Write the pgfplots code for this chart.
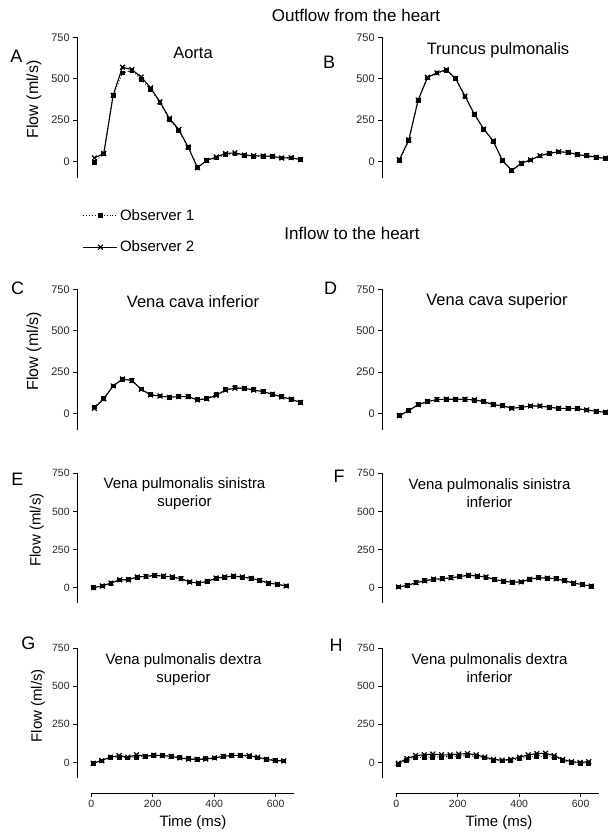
\documentclass[border=0pt]{standalone}
\usepackage{fontspec}
\setmainfont{Liberation Sans}
\usepackage{pgfplots}
\usepackage{pgfplotstable}
\pgfplotsset{compat=1.18}

\pgfplotstableread{
t o1 o2
10 -5 20
40.5 45 47
71 400 400
101.5 535 570
132 550 555
162.5 495 510
193 435 445
223.5 355 360
254 255 260
284.5 185 193
315 85 87
345.5 -35 -39
376 5 6
406.5 20 26
437 42 47
467.5 45 51
498 35 38
528.5 30 34
559 30 32
589.5 27 30
620 20 20
650.5 20 22
681 10 10
}\dataA

\pgfplotstableread{
t o1 o2
10 5 10
40.5 125 130
71 370 371
101.5 505 509
132 535 535
162.5 550 555
193 500 501
223.5 390 395
254 285 285
284.5 195 195
315 122 124
345.5 5 4
376 -55 -56
406.5 -12 -12
437 8 8
467.5 32 34
498 48 48
528.5 56 58
559 55 54
589.5 40 40
620 34 34
650.5 24 24
681 18 18
}\dataB

\pgfplotstableread{
t o1 o2
10 38 30
40.5 92 88
71 165 165
101.5 205 208
132 200 198
162.5 148 145
193 113 111
223.5 105 105
254 98 97
284.5 102 101
315 102 101
345.5 83 81
376 92 88
406.5 112 108
437 143 141
467.5 155 152
498 152 151
528.5 142 141
559 132 131
589.5 115 115
620 100 99
650.5 85 85
681 67 65
}\dataC

\pgfplotstableread{
t o1 o2
10 -12 -14
40.5 18 16
71 52 52
101.5 72 71
132 83 83
162.5 85 85
193 85 85
223.5 85 85
254 80 81
284.5 72 71
315 53 52
345.5 46 46
376 32 30
406.5 37 36
437 45 44
467.5 45 44
498 37 36
528.5 30 30
559 30 30
589.5 28 28
620 20 20
650.5 12 12
681 6 6
}\dataD

\pgfplotstableread{
t o1 o2
7 0 0
35.5 11 11
64 30 30
92.5 50 52
121 52 52
149.5 68 70
178 72 74
206.5 78 80
235 76 76
263.5 68 70
292 58 59
320.5 38 37
349 30 30
377.5 40 41
406 60 63
434.5 68 70
463 75 76
491.5 68 70
520 60 61
548.5 47 48
577 30 30
605.5 22 22
634 11 11
}\dataE

\pgfplotstableread{
t o1 o2
7 5 5
35.5 15 15
64 32 32
92.5 45 45
121 55 55
149.5 58 58
178 65 65
206.5 72 72
235 80 82
263.5 75 76
292 68 70
320.5 52 53
349 42 42
377.5 35 35
406 38 38
434.5 55 55
463 65 65
491.5 62 62
520 58 58
548.5 45 45
577 30 30
605.5 20 20
634 10 10
}\dataF

\pgfplotstableread{
t o1 o2
6 -5 -5
34.2 10 12
62.4 35 35
90.6 35 45
118.8 30 35
147 35 50
175.2 40 40
203.4 45 48
231.6 45 45
259.8 40 40
288 32 30
316.2 25 22
344.4 22 20
372.6 25 22
400.8 30 30
429 38 40
457.2 45 46
485.4 45 46
513.6 40 45
541.8 30 35
570 22 20
598.2 15 12
626.4 10 10
}\dataG

\pgfplotstableread{
t o1 o2
6 -15 -5
34.2 15 25
62.4 30 45
90.6 35 50
118.8 35 55
147 35 50
175.2 40 50
203.4 40 55
231.6 45 58
259.8 40 50
288 30 35
316.2 15 20
344.4 10 15
372.6 15 20
400.8 25 35
429 35 50
457.2 40 58
485.4 40 60
513.6 35 45
541.8 15 20
570 0 5
598.2 -5 0
626.4 -5 5
}\dataH

\pgfplotsset{
  panel/.style={
    anchor=south west,
    x=0.3072pt,
    xmin=-46, xmax=700,
    ymin=-100, ymax=750,
    enlargelimits=false,
    clip=false,
    axis y line=left,
    axis x line=none,
    axis line style={-, line width=0.9pt, black},
    ytick={0,250,500,750},
    xtick=\empty,
    tick align=outside,
    major tick length=4pt,
    tick style={line width=0.9pt, black},
    /pgf/number format/assume math mode=true,
  },
  bigrow/.style={y=0.1651pt, yticklabel style={font=\fontsize{11}{12}\selectfont, text=black!85}},
  smallrow/.style={y=0.1525pt, yticklabel style={font=\fontsize{10.5}{11}\selectfont, text=black!85}},
  obs1/.style={black, dotted, line width=0.9pt, mark=square*, mark size=1.9pt, mark options={solid}},
  obs2/.style={black, solid, line width=1.1pt, mark=x, mark size=3.4pt, mark options={line width=1.2pt}},
  taxis/.style={
    anchor=south west,
    x=0.3072pt, y=1pt,
    xmin=0, xmax=660, ymin=0, ymax=1,
    enlargelimits=false,
    axis x line=bottom,
    axis y line=none,
    axis line style={-, line width=0.9pt, black},
    xtick={0,200,400,600},
    ytick=\empty,
    tick align=outside,
    major tick length=4pt,
    tick style={line width=0.9pt, black},
    xticklabel style={font=\fontsize{10.5}{11}\selectfont, text=black!85},
    /pgf/number format/assume math mode=true,
  },
}

\begin{document}
\begin{tikzpicture}
\useasboundingbox (0pt,0pt) rectangle (608pt,836pt);

% ---- Row 1 ----
\begin{axis}[panel, bigrow, at={(77.2pt,658.2pt)},
  legend style={at={(axis description cs:0.024,-0.211)}, anchor=north west,
    draw=none, fill=none, inner sep=0pt, row sep=15pt,
    font=\fontsize{15}{17}\selectfont},
  legend cell align=left,
  legend image code/.code={\draw[mark repeat=2,mark phase=2,#1] plot coordinates {(0pt,0pt) (17pt,0pt) (34pt,0pt)};}]
\addplot[obs1] table[x=t,y=o1] {\dataA};
\addlegendentry{Observer 1}
\addplot[obs2] table[x=t,y=o2] {\dataA};
\addlegendentry{Observer 2}
\end{axis}

\begin{axis}[panel, bigrow, at={(382.2pt,658.2pt)}]
\addplot[obs1] table[x=t,y=o1] {\dataB};
\addplot[obs2] table[x=t,y=o2] {\dataB};
\end{axis}

% ---- Row 2 ----
\begin{axis}[panel, bigrow, at={(77.2pt,406.2pt)}]
\addplot[obs1] table[x=t,y=o1] {\dataC};
\addplot[obs2] table[x=t,y=o2] {\dataC};
\end{axis}

\begin{axis}[panel, bigrow, at={(382.2pt,406.2pt)}]
\addplot[obs1] table[x=t,y=o1] {\dataD};
\addplot[obs2] table[x=t,y=o2] {\dataD};
\end{axis}

% ---- Row 3 ----
\begin{axis}[panel, smallrow, at={(77.2pt,233.1pt)}]
\addplot[obs1] table[x=t,y=o1] {\dataE};
\addplot[obs2] table[x=t,y=o2] {\dataE};
\end{axis}

\begin{axis}[panel, smallrow, at={(382.2pt,233.1pt)}]
\addplot[obs1] table[x=t,y=o1] {\dataF};
\addplot[obs2] table[x=t,y=o2] {\dataF};
\end{axis}

% ---- Row 4 ----
\begin{axis}[panel, smallrow, at={(77.2pt,58.3pt)}]
\addplot[obs1] table[x=t,y=o1] {\dataG};
\addplot[obs2] table[x=t,y=o2] {\dataG};
\end{axis}

\begin{axis}[panel, smallrow, at={(382.2pt,58.3pt)}]
\addplot[obs1] table[x=t,y=o1] {\dataH};
\addplot[obs2] table[x=t,y=o2] {\dataH};
\end{axis}

% ---- Time axes ----
\begin{axis}[taxis, at={(91.3pt,43pt)}]
\end{axis}
\begin{axis}[taxis, at={(396.3pt,43pt)}]
\end{axis}

% ---- Text ----
\begin{scope}[every node/.style={inner sep=0pt, text=black}]
\node[font=\fontsize{17}{20}\selectfont] at (356pt,821pt) {Outflow from the heart};
\node[font=\fontsize{17}{20}\selectfont] at (352pt,603pt) {Inflow to the heart};

\node[font=\fontsize{16.5}{19}\selectfont] at (193pt,782.7pt) {Aorta};
\node[font=\fontsize{16.5}{19}\selectfont] at (498pt,786pt) {Truncus pulmonalis};
\node[font=\fontsize{16.5}{19}\selectfont] at (193pt,534.3pt) {Vena cava inferior};
\node[font=\fontsize{16.5}{19}\selectfont] at (497pt,534.3pt) {Vena cava superior};
\node[font=\fontsize{15}{18}\selectfont, align=center] at (184.5pt,342.5pt) {Vena pulmonalis sinistra\\superior};
\node[font=\fontsize{15}{18}\selectfont, align=center] at (489.5pt,342.5pt) {Vena pulmonalis sinistra\\inferior};
\node[font=\fontsize{15}{18}\selectfont, align=center] at (183.5pt,166.5pt) {Vena pulmonalis dextra\\superior};
\node[font=\fontsize{15}{18}\selectfont, align=center] at (489.5pt,168.3pt) {Vena pulmonalis dextra\\inferior};

\node[font=\fontsize{18}{20}\selectfont] at (16.3pt,779.3pt) {A};
\node[font=\fontsize{18}{20}\selectfont] at (329pt,773.5pt) {B};
\node[font=\fontsize{18}{20}\selectfont] at (17.5pt,548pt) {C};
\node[font=\fontsize{18}{20}\selectfont] at (330.7pt,548pt) {D};
\node[font=\fontsize{18}{20}\selectfont] at (17.5pt,357pt) {E};
\node[font=\fontsize{18}{20}\selectfont] at (339pt,360pt) {F};
\node[font=\fontsize{18}{20}\selectfont] at (28.3pt,193pt) {G};
\node[font=\fontsize{18}{20}\selectfont] at (336pt,191pt) {H};

\node[font=\fontsize{16}{18}\selectfont, rotate=90] at (34pt,736.6pt) {Flow (ml/s)};
\node[font=\fontsize{16}{18}\selectfont, rotate=90] at (34pt,484.7pt) {Flow (ml/s)};
\node[font=\fontsize{15}{18}\selectfont, rotate=90] at (36.7pt,306pt) {Flow (ml/s)};
\node[font=\fontsize{15}{18}\selectfont, rotate=90] at (38pt,130.2pt) {Flow (ml/s)};

\node[font=\fontsize{15}{18}\selectfont] at (193pt,13.3pt) {Time (ms)};
\node[font=\fontsize{15}{18}\selectfont] at (499pt,13.3pt) {Time (ms)};
\end{scope}
\end{tikzpicture}
\end{document}
